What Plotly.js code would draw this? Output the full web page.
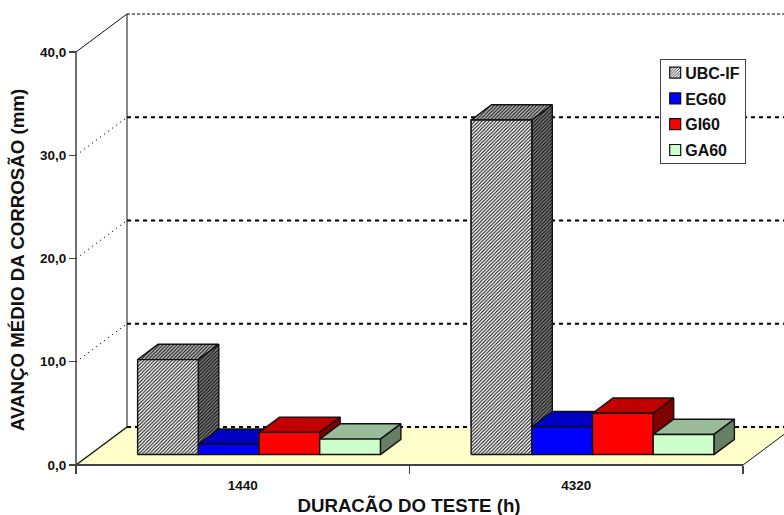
<!DOCTYPE html>
<html><head><meta charset="utf-8">
<script src="https://cdn.plot.ly/plotly-3.0.1.min.js"></script>
<style>html,body{margin:0;padding:0;background:#fff;overflow:hidden}</style>
</head><body><div id="chart" style="width:784px;height:515px;overflow:hidden"></div>
<script>
const categories = ['1440', '4320'];
const seriesNames = ['UBC-IF', 'EG60', 'GI60', 'GA60'];
const ubcIF = [9.2, 32.4];
const eg60 = [1.0, 2.7];
const gi60 = [2.15, 4.0];
const ga60 = [1.5, 1.95];
const yTickVals = [0, 10, 20, 30, 40];
const yTickText = ['0,0', '10,0', '20,0', '30,0', '40,0'];

const seriesValues = [ubcIF, eg60, gi60, ga60];
const FONT = 'Liberation Sans, Arial, sans-serif';
const PXX = 333.5, PXY = 10.325;           // pixels per category / per value unit
const DX = 51 / PXX, DY = 38 / PXY;        // oblique depth vector in axis units
const D0 = 0.2745, D1 = 0.676;             // bar front and back depth
const BW = 0.182, GAP = (1 - 4 * BW) / 2 + 0.0068;
const CATS = categories.length;
const H = 520;

const hatch = (bg) => ({shape: '/', size: 2.5, solidity: 0.4, fgcolor: '#000', bgcolor: bg, fillmode: 'replace'});
const faces = [
  {front: '#ffffff', top: '#c0c0c0', side: '#808080', hatched: true},
  {front: '#0000ff', top: '#0000c0', side: '#000080'},
  {front: '#ff0000', top: '#c00000', side: '#800000'},
  {front: '#ccffcc', top: '#99bb99', side: '#668066'}
];
const P = (x, v, d) => [x + d * DX, v + d * DY];
function poly(pts, color, hatched, group, lineColor) {
  const t = {type: 'scatter', mode: 'lines', x: pts.map(p => p[0]).concat(pts[0][0]),
    y: pts.map(p => p[1]).concat(pts[0][1]), fill: 'toself', fillcolor: color,
    line: {color: lineColor || '#111', width: 1.4}, hoverinfo: 'skip', showlegend: false};
  if (hatched) t.fillpattern = hatch(color);
  if (group) t.legendgroup = group;
  return t;
}
function line(xs, ys, color, width, dash) {
  return {type: 'scatter', mode: 'lines', x: xs, y: ys, line: {color, width, dash: dash || 'solid'},
    hoverinfo: 'skip', showlegend: false};
}
const traces = [];

// Bars carrying the values and legend entries
seriesNames.forEach((name, s) => {
  traces.push({type: 'bar', name, legendgroup: name,
    x: categories.map((c, i) => i + GAP + (s + 0.5) * BW + D0 * DX),
    y: seriesValues[s], base: categories.map(() => D0 * DY), width: BW,
    marker: {color: faces[s].front, line: {color: '#111', width: 1.2},
      pattern: faces[s].hatched ? {shape: '/', size: 2.5, solidity: 0.4, fgcolor: '#000', bgcolor: '#fff', fillmode: 'replace'} : {shape: ''}},
    hoverinfo: 'name+y'});
});

// Floor and walls
traces.push(poly([P(0, 0, 0), P(CATS, 0, 0), P(CATS, 0, 1), P(0, 0, 1)], '#ffffcc', false, null, 'rgba(0,0,0,0)'));
yTickVals.forEach(v => {
  const solid = v === 0 || v === 40;
  if (v > 0) traces.push(line([P(0, v, 0)[0], P(0, v, 1)[0]], [v, P(0, v, 1)[1]], solid ? '#111' : '#222', solid ? 1 : 1.2, solid ? 'solid' : '1px,4px'));
  traces.push(line([P(0, v, 1)[0], P(CATS, v, 1)[0]], [P(0, v, 1)[1], P(CATS, v, 1)[1]], '#000', v === 40 ? 1 : 2, v === 40 ? '3px,2px' : '4px,4px'));
});
traces.push(line([P(0, 0, 1)[0], P(0, 40, 1)[0]], [P(0, 0, 1)[1], P(0, 40, 1)[1]], '#111', 1));
traces.push(line([P(0, 0, 0)[0], P(0, 0, 1)[0]], [0, P(0, 0, 1)[1]], '#111', 1.4));
traces.push(line([P(CATS, 0, 0)[0], P(CATS, 0, 1)[0]], [0, P(CATS, 0, 1)[1]], '#111', 1));
traces.push(line([0, 0], [0, 40], '#333', 1.4));
traces.push(line([0, CATS], [0, 0], '#444', 2));

// Boxes
categories.forEach((c, i) => {
  seriesNames.forEach((name, s) => {
    const x0 = i + GAP + s * BW, x1 = x0 + BW, v = seriesValues[s][i], f = faces[s];
    traces.push(poly([P(x0, v, D0), P(x1, v, D0), P(x1, v, D1), P(x0, v, D1)], f.top, f.hatched, name));
    traces.push(poly([P(x1, 0, D0), P(x1, 0, D1), P(x1, v, D1), P(x1, v, D0)], f.side, f.hatched, name));
    traces.push(poly([P(x0, 0, D0), P(x1, 0, D0), P(x1, v, D0), P(x0, v, D0)], f.front, f.hatched, name));
  });
});

const layout = {
  width: 784, height: H, margin: {l: 34, r: 0, t: 0, b: 0},
  paper_bgcolor: '#fff', plot_bgcolor: '#fff', barmode: 'overlay', showlegend: true,
  font: {family: FONT, color: '#111'},
  xaxis: {range: [(34 - 76) / PXX, (784 - 76) / PXX], anchor: 'free', position: (H - 465) / H,
    showgrid: false, zeroline: false, showline: false, tickmode: 'array',
    tickvals: categories.map((c, i) => i + 0.5), ticktext: categories,
    ticks: 'outside', ticklen: 8, tickcolor: 'rgba(0,0,0,0)',
    minor: {tickmode: 'array', tickvals: [0, 1, 2], ticks: 'outside', ticklen: 8, tickcolor: '#444', tickwidth: 1.2, showgrid: false},
    tickfont: {size: 13.5, family: FONT, weight: 'bold', color: '#111'},
    title: {text: '<b>DURACÃO DO TESTE (h)</b>', font: {size: 18.7, family: FONT, color: '#111'}, standoff: 6}},
  yaxis: {range: [(465 - H) / PXY, 465 / PXY], anchor: 'free', position: 42 / 750,
    showgrid: false, zeroline: false, showline: false, tickmode: 'array',
    tickvals: yTickVals, ticktext: yTickText, ticks: 'outside', ticklen: 7, tickcolor: '#444', tickwidth: 1.2,
    tickfont: {size: 13.5, family: FONT, weight: 'bold', color: '#111'},
    title: {text: '<b>AVANÇO MÉDIO DA CORROSÃO (mm)</b>', font: {size: 18.7, family: FONT, color: '#111'}, standoff: 9}},
  legend: {x: (659.5 - 34) / 750, y: 1 - 59 / H, xanchor: 'left', yanchor: 'top', bgcolor: '#fff',
    bordercolor: '#444', borderwidth: 1.2, traceorder: 'grouped', tracegroupgap: 2,
    font: {size: 16, family: FONT, weight: 'bold', color: '#111'}, itemclick: false, itemdoubleclick: false}
};
Plotly.newPlot('chart', traces, layout, {displayModeBar: false, staticPlot: true}).then(gd => {
  // Tighten the library's legend to the reference's compact swatch/text spacing
  const lg = gd.querySelector('.legend');
  if (!lg) return;
  lg.querySelectorAll('.legendpoints path').forEach(p => {
    p.setAttribute('d', 'M5.5,5.5H-5.5V-5.5H5.5Z');
    p.setAttribute('transform', 'translate(14.5,0)');
  });
  lg.querySelectorAll('.legendtext').forEach(t => t.setAttribute('x', 24.5));
  const bg = lg.querySelector('.bg');
  bg.setAttribute('width', 85.5);
  bg.setAttribute('height', 104);
  const sb = lg.querySelector('.scrollbox');
  if (sb) sb.setAttribute('transform', 'translate(0,-4.5)');
});
</script></body></html>
